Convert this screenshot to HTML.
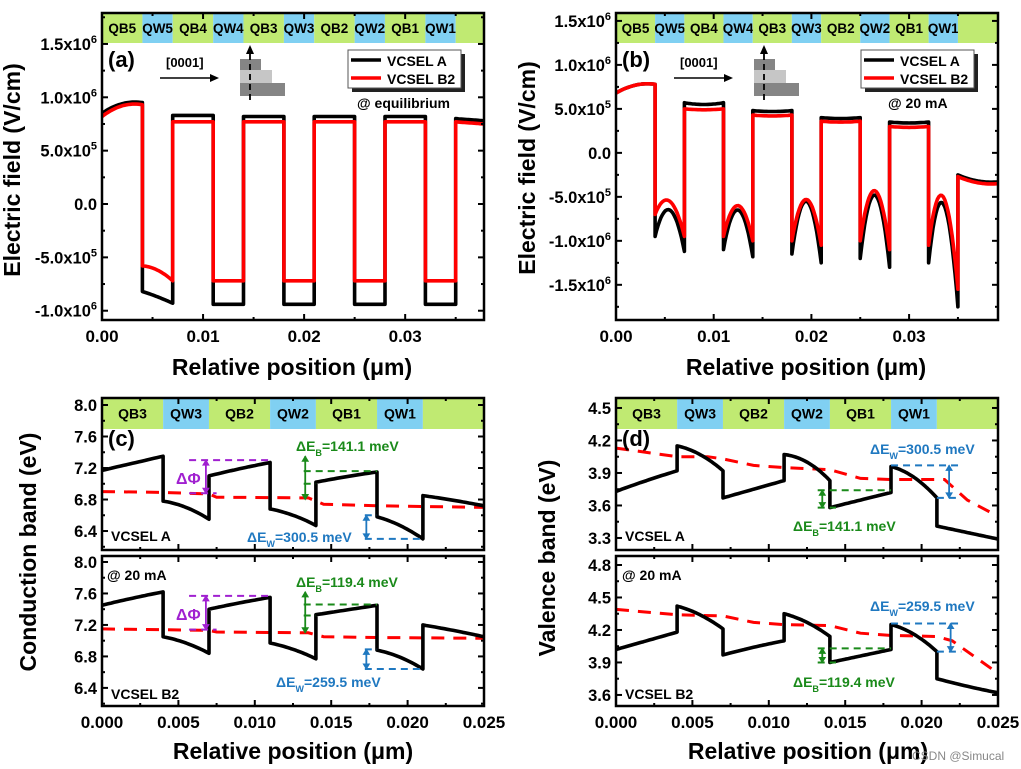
<!DOCTYPE html>
<html><head><meta charset="utf-8"><style>
html,body{margin:0;padding:0;background:#fff;}
svg{display:block;font-family:"Liberation Sans",Arial,sans-serif;font-weight:bold;}
</style></head><body>
<svg id="fig" width="1021" height="769" viewBox="0 0 1021 769" xmlns="http://www.w3.org/2000/svg">
<text transform="translate(20,170) rotate(-90)" text-anchor="middle" font-size="23">Electric field (V/cm)</text>
<text x="292" y="375" text-anchor="middle" font-size="23">Relative position (μm)</text>
<text transform="translate(535,168) rotate(-90)" text-anchor="middle" font-size="23">Electric field (V/cm)</text>
<text x="806" y="375" text-anchor="middle" font-size="23">Relative position (μm)</text>
<text transform="translate(36,552) rotate(-90)" text-anchor="middle" font-size="23">Conduction band (eV)</text>
<text x="293" y="759" text-anchor="middle" font-size="23">Relative position (μm)</text>
<text transform="translate(555,558) rotate(-90)" text-anchor="middle" font-size="23">Valence band (eV)</text>
<text x="808" y="759" text-anchor="middle" font-size="23">Relative position (μm)</text>
<text x="912" y="760" font-size="12" font-weight="normal" fill="#888">CSDN @Simucal</text>
</svg>
<script>
// ---- data ----
const layerNames10=['QB5','QW5','QB4','QW4','QB3','QW3','QB2','QW2','QB1','QW1',''];
const layerNames6=['QB3','QW3','QB2','QW2','QB1','QW1',''];
const aBounds=[0,0.004,0.007,0.011,0.014,0.018,0.021,0.025,0.028,0.032,0.035,0.0378];
const aBlack0=[0.85,-0.82,0.83,-0.94,0.82,-0.94,0.82,-0.94,0.82,-0.94,0.80];
const aBlackM=[0.94,-0.87,0.83,-0.94,0.82,-0.94,0.82,-0.94,0.82,-0.94,0.79];
const aBlack1=[0.95,-0.93,0.83,-0.94,0.82,-0.94,0.82,-0.94,0.82,-0.94,0.78];
const aRed0=[0.82,-0.58,0.77,-0.72,0.77,-0.72,0.77,-0.72,0.77,-0.72,0.77];
const aRedM=[0.92,-0.62,0.77,-0.72,0.77,-0.72,0.77,-0.72,0.77,-0.72,0.76];
const aRed1=[0.93,-0.72,0.77,-0.72,0.77,-0.72,0.77,-0.72,0.77,-0.72,0.75];
const bBounds=[0,0.004,0.007,0.011,0.014,0.018,0.021,0.025,0.028,0.032,0.035,0.0391];
const bBlack0=[0.68,-0.95,0.57,-1.10,0.48,-1.15,0.40,-1.20,0.35,-1.25,-0.25];
const bBlackM=[0.77,-0.65,0.55,-0.65,0.47,-0.55,0.39,-0.48,0.34,-0.58,-0.32];
const bBlack1=[0.78,-1.12,0.57,-1.18,0.48,-1.25,0.40,-1.30,0.35,-1.75,-0.33];
const bRed0=[0.68,-0.70,0.50,-0.95,0.43,-1.00,0.36,-1.00,0.30,-1.05,-0.27];
const bRedM=[0.77,-0.55,0.49,-0.60,0.42,-0.53,0.35,-0.43,0.29,-0.50,-0.34];
const bRed1=[0.78,-0.95,0.50,-1.00,0.43,-1.05,0.36,-1.10,0.30,-1.55,-0.35];
const cBounds=[0,0.004,0.007,0.011,0.014,0.018,0.021,0.025];
const cA0=[7.17,6.78,7.10,6.68,7.02,6.58,6.85];
const cAM=[7.26,6.70,7.19,6.60,7.09,6.47,6.79];
const cA1=[7.35,6.55,7.27,6.47,7.15,6.30,6.72];
const cB0=[7.45,7.05,7.40,6.97,7.33,6.88,7.20];
const cBM=[7.54,6.97,7.48,6.89,7.39,6.79,7.13];
const cB1=[7.62,6.84,7.55,6.77,7.45,6.64,7.05];
const cFermiX=[0,0.004,0.007,0.0075,0.0135,0.0145,0.018,0.025];
const cFermiA=[6.90,6.89,6.87,6.83,6.82,6.74,6.72,6.70];
const cFermiB=[7.15,7.14,7.13,7.11,7.10,7.05,7.04,7.03];
const dA0=[3.73,4.15,3.67,4.07,3.58,3.96,3.41];
const dAM=[3.83,4.07,3.75,4.00,3.65,3.86,3.35];
const dA1=[3.92,3.92,3.83,3.83,3.72,3.67,3.29];
const dB0=[4.02,4.42,3.97,4.35,3.90,4.25,3.75];
const dBM=[4.10,4.34,4.04,4.27,3.96,4.16,3.68];
const dB1=[4.18,4.21,4.10,4.14,4.02,4.00,3.62];
const dFermiXA=[0,0.004,0.006,0.007,0.009,0.011,0.014,0.016,0.018,0.0215,0.023,0.025];
const dFermiA=[4.13,4.05,4.05,4.03,3.97,3.95,3.93,3.85,3.84,3.84,3.65,3.50];
const dFermiXB=[0,0.004,0.007,0.009,0.011,0.014,0.016,0.018,0.021,0.022,0.025];
const dFermiB=[4.39,4.34,4.33,4.27,4.25,4.24,4.17,4.15,4.14,4.10,3.80];
const abXTicks=[0,0.01,0.02,0.03];
const abXLabels=['0.00','0.01','0.02','0.03'];
const aYTicks=[-1,-0.5,0,0.5,1,1.5];
const bYTicks=[-1.5,-1,-0.5,0,0.5,1,1.5];
const cdXTicks=[0,0.005,0.01,0.015,0.02,0.025];
const cdXLabels=['0.000','0.005','0.010','0.015','0.020','0.025'];
const cYTicks=[6.4,6.8,7.2,7.6,8.0];
const dUYTicks=[3.3,3.6,3.9,4.2,4.5];
const dLYTicks=[3.6,3.9,4.2,4.5,4.8];

const NS='http://www.w3.org/2000/svg';
const svg=document.getElementById('fig');
function el(tag,attrs,parent){const e=document.createElementNS(NS,tag);for(const k in attrs)e.setAttribute(k,attrs[k]);(parent||svg).appendChild(e);return e;}
function mkPanel(x0,x1,y0,y1,d0,d1,v0,v1){return {x0,x1,y0,y1,sx:v=>x0+(v-d0)/(d1-d0)*(x1-x0),sy:v=>y1-(v-v0)/(v1-v0)*(y1-y0),d0,d1,v0,v1};}
const PA=mkPanel(102,484,13,320,0,0.0378,-1.087,1.79);
const PB=mkPanel(616,998,13,320,0,0.0391,-1.90,1.59);
const PCU=mkPanel(102,484,398,550,0,0.025,6.159,8.089);
const PCL=mkPanel(102,484,556,706,0,0.025,6.17,8.076);
const PDU=mkPanel(616,998,398,550,0,0.025,3.189,4.592);
const PDL=mkPanel(616,998,556,706,0,0.025,3.498,4.883);

function strip(P,bounds,names,h,fs,name){
  for(let i=0;i<names.length;i++){
    const xa=P.sx(bounds[i]),xb=(i==names.length-1)?P.x1:P.sx(bounds[i+1]);
    const r=el('rect',{x:xa,y:P.y0,width:xb-xa,height:h,fill:names[i].startsWith('QW')?'#80d0f2':'#c0ea72'});
    
    
    if(names[i]){const t=el('text',{x:(xa+xb)/2,y:P.y0+h/2+5,'text-anchor':'middle','font-size':fs});t.textContent=names[i];
    
    }
  }
}
function layerCurve(P,bounds,v0,vm,v1,color,name){
  let pts=[];
  for(let i=0;i<v0.length;i++){
    for(let k=0;k<=20;k++){const t=k/20;
      const v=v0[i]*2*(t-0.5)*(t-1)+vm[i]*(-4)*t*(t-1)+v1[i]*2*t*(t-0.5);
      pts.push(P.sx(bounds[i]+(bounds[i+1]-bounds[i])*t).toFixed(1)+','+P.sy(v).toFixed(1));}
  }
  const p=el('polyline',{points:pts.join(' '),fill:'none',stroke:color,'stroke-width':3.6,'stroke-linejoin':'round'});
  
  
}
function dashed(P,xs,vs,name){
  const pts=xs.map((x,i)=>P.sx(x).toFixed(1)+','+P.sy(vs[i]).toFixed(1));
  const p=el('polyline',{points:pts.join(' '),fill:'none',stroke:'#ff0000','stroke-width':3,'stroke-dasharray':'13,9'});
  
  
}
function frame(P,xt,xl,xmin,yt,yl,ymin,showX,name){
  const g=el('g',{});
  
  
  el('rect',{x:P.x0,y:P.y0,width:P.x1-P.x0,height:P.y1-P.y0,fill:'none',stroke:'#000','stroke-width':2.5},g);
  const xs=[];for(let v=P.d0;v<=P.d1+1e-9;v+=xmin)xs.push(v);
  xs.forEach(v=>{const x=P.sx(v),maj=Math.abs(v/(xmin*2)-Math.round(v/(xmin*2)))<1e-6,L=maj?6:3;
    el('line',{x1:x,x2:x,y1:P.y1,y2:P.y1-L,stroke:'#000','stroke-width':2},g);
    el('line',{x1:x,x2:x,y1:P.y0,y2:P.y0+L,stroke:'#000','stroke-width':2},g);});
  for(let v=Math.ceil(P.v0/ymin)*ymin;v<=P.v1+1e-9;v+=ymin){const y=P.sy(v),maj=Math.abs(v/(ymin*2)-Math.round(v/(ymin*2)))<1e-6,L=maj?6:3;
    el('line',{x1:P.x0,x2:P.x0+L,y1:y,y2:y,stroke:'#000','stroke-width':2},g);
    el('line',{x1:P.x1,x2:P.x1-L,y1:y,y2:y,stroke:'#000','stroke-width':2},g);}
  if(showX)xt.forEach((v,i)=>{const t=el('text',{x:P.sx(v),y:P.y1+22,'text-anchor':'middle','font-size':17},g);t.textContent=xl[i];
    
    });
  yt.forEach((v,i)=>{const t=el('text',{x:P.x0-5,y:P.sy(v)+6,'text-anchor':'end','font-size':16.5},g);
    
    
    if(yl){const s=yl(v);t.textContent=s[0];if(s[1]){const ts=el('tspan',{dy:-7,'font-size':11},t);ts.textContent=s[1];}}else t.textContent=v.toFixed(1);});
}
function sciLabel(v){if(v===0)return['0.0',''];const a=Math.abs(v);let m,e;if(a>=1){m=v;e='6';}else{m=v*10;e='5';}return[m.toFixed(1)+'x10',e];}
function txt(x,y,s,fs,fill,name,sub,rest){
  const t=el('text',{x,y,'font-size':fs,fill:fill||'#000'});
  
  
  if(sub){t.textContent=s;const a=el('tspan',{dy:5,'font-size':fs*0.65},t);a.textContent=sub;const b=el('tspan',{dy:-5},t);b.textContent=rest;}else t.textContent=s;
}
function hl(P,xa,xb,v,c,name){const l=el('line',{x1:P.sx(xa),x2:P.sx(xb),y1:P.sy(v),y2:P.sy(v),stroke:c,'stroke-width':2,'stroke-dasharray':'7,5'});
  
  }
function varrow(P,x,va,vb,c,name){const X=P.sx(x),ya=P.sy(va),yb=P.sy(vb);
  const g=el('g',{});
  
  
  el('line',{x1:X,x2:X,y1:ya,y2:yb,stroke:c,'stroke-width':1.8},g);
  el('path',{d:`M${X-3},${ya+5}L${X},${ya}L${X+3},${ya+5}Z M${X-3},${yb-5}L${X},${yb}L${X+3},${yb-5}Z`,fill:c,stroke:c},g);}
function legend(x,y,name){
  const g=el('g',{});
  
  
  el('rect',{x:x+4,y:y+4,width:113,height:38,fill:'#222'},g);
  el('rect',{x:x,y:y,width:113,height:38,fill:'#fff',stroke:'#555','stroke-width':1},g);
  el('line',{x1:x+3,x2:x+33,y1:y+10,y2:y+10,stroke:'#000','stroke-width':3.5},g);
  el('line',{x1:x+3,x2:x+33,y1:y+28,y2:y+28,stroke:'#f00','stroke-width':3.5},g);
  const t1=el('text',{x:x+39,y:y+16,'font-size':14},g);t1.textContent='VCSEL A';
  const t2=el('text',{x:x+39,y:y+34,'font-size':14},g);t2.textContent='VCSEL B2';
}
function inset(dx,name){
  const g=el('g',{});
  
  
  const t=el('text',{x:166+dx,y:67,'font-size':13},g);t.textContent='[0001]';
  el('line',{x1:160+dx,x2:212+dx,y1:78,y2:78,stroke:'#000','stroke-width':1.5},g);
  el('path',{d:`M${210+dx},74L${219+dx},78L${210+dx},82Z`,fill:'#000'},g);
  el('rect',{x:240+dx,y:59,width:21,height:11,fill:'#858585'},g);
  el('rect',{x:240+dx,y:70,width:32,height:13,fill:'#c6c6c6'},g);
  el('rect',{x:240+dx,y:83,width:45,height:13,fill:'#858585'},g);
  el('line',{x1:250+dx,x2:250+dx,y1:100,y2:52,stroke:'#000','stroke-width':1.8,'stroke-dasharray':'6,4'},g);
  el('path',{d:`M${246+dx},54L${250+dx},45L${254+dx},54Z`,fill:'#000'},g);
}

// (a)
strip(PA,aBounds,layerNames10,30,13.5,'panel-a');
layerCurve(PA,aBounds,aBlack0,aBlackM,aBlack1,'#000','series-vcsel-a-a');
layerCurve(PA,aBounds,aRed0,aRedM,aRed1,'#f00','series-vcsel-b2-a');
frame(PA,abXTicks,abXLabels,0.005,aYTicks,sciLabel,0.25,true,'panel-a');
txt(108,67,'(a)',22,'#000','panel-label-a');
legend(348,50,'legend-a');
txt(357,108,'@ equilibrium',14,'#000','condition-label-a');
inset(0,'direction-inset-a');
// (b)
strip(PB,bBounds,layerNames10,30,13.5,'panel-b');
layerCurve(PB,bBounds,bBlack0,bBlackM,bBlack1,'#000','series-vcsel-a-b');
layerCurve(PB,bBounds,bRed0,bRedM,bRed1,'#f00','series-vcsel-b2-b');
frame(PB,abXTicks,abXLabels,0.005,bYTicks,sciLabel,0.25,true,'panel-b');
txt(622,67,'(b)',22,'#000','panel-label-b');
legend(861,50,'legend-b');
txt(888,108,'@ 20 mA',14,'#000','condition-label-b');
inset(514,'direction-inset-b');
// (c)
strip(PCU,cBounds,layerNames6,31,14,'panel-c');
dashed(PCU,cFermiX,cFermiA,'fermi-level-c-a');
layerCurve(PCU,cBounds,cA0,cAM,cA1,'#000','conduction-band-vcsel-a');
dashed(PCL,cFermiX,cFermiB,'fermi-level-c-b2');
layerCurve(PCL,cBounds,cB0,cBM,cB1,'#000','conduction-band-vcsel-b2');
frame(PCU,[],[],0.0025,cYTicks,null,0.2,false,'panel-c-upper');
frame(PCL,cdXTicks,cdXLabels,0.0025,cYTicks,null,0.2,true,'panel-c-lower');
txt(108,446,'(c)',22,'#000','panel-label-c');
txt(111,541,'VCSEL A',14,'#000','sample-label-c-a');
txt(111,699,'VCSEL B2',14,'#000','sample-label-c-b2');
txt(107,580,'@ 20 mA',14,'#000','condition-label-c');
const purple='#a020d0',green='#1a8a1a',blue='#1f78c0';
hl(PCU,0.0057,0.011,7.30,purple,'delta-phi-top-a');hl(PCU,0.0057,0.0075,6.88,purple,'delta-phi-bottom-a');
varrow(PCU,0.0068,7.30,6.88,purple,'delta-phi-arrow-a');txt(176,484,'ΔΦ',16,purple,'delta-phi-label-a');
hl(PCU,0.0132,0.018,7.16,green,'delta-eb-top-c-a');hl(PCU,0.0132,0.014,7.00,green,'delta-eb-bottom-c-a');
varrow(PCU,0.0133,7.35,6.80,green,'delta-eb-arrow-c-a');txt(296,451,'ΔE',14,green,'delta-eb-label-c-a','B','=141.1 meV');
hl(PCU,0.0172,0.021,6.30,blue,'delta-ew-bottom-c-a');hl(PCU,0.0172,0.018,6.60,blue,'delta-ew-top-c-a');
varrow(PCU,0.0173,6.60,6.30,blue,'delta-ew-arrow-c-a');txt(247,542,'ΔE',14,blue,'delta-ew-label-c-a','W','=300.5 meV');
hl(PCL,0.0057,0.011,7.57,purple,'delta-phi-top-b2');hl(PCL,0.0057,0.0075,7.14,purple,'delta-phi-bottom-b2');
varrow(PCL,0.0068,7.57,7.14,purple,'delta-phi-arrow-b2');txt(176,620,'ΔΦ',16,purple,'delta-phi-label-b2');
hl(PCL,0.0132,0.018,7.46,green,'delta-eb-top-c-b2');hl(PCL,0.0132,0.014,7.32,green,'delta-eb-bottom-c-b2');
varrow(PCL,0.0133,7.62,7.10,green,'delta-eb-arrow-c-b2');txt(296,587,'ΔE',14,green,'delta-eb-label-c-b2','B','=119.4 meV');
hl(PCL,0.0172,0.021,6.64,blue,'delta-ew-bottom-c-b2');hl(PCL,0.0172,0.018,6.89,blue,'delta-ew-top-c-b2');
varrow(PCL,0.0173,6.89,6.64,blue,'delta-ew-arrow-c-b2');txt(276,687,'ΔE',14,blue,'delta-ew-label-c-b2','W','=259.5 meV');
// (d)
strip(PDU,cBounds,layerNames6,31,14,'panel-d');
dashed(PDU,dFermiXA,dFermiA,'fermi-level-d-a');
layerCurve(PDU,cBounds,dA0,dAM,dA1,'#000','valence-band-vcsel-a');
dashed(PDL,dFermiXB,dFermiB,'fermi-level-d-b2');
layerCurve(PDL,cBounds,dB0,dBM,dB1,'#000','valence-band-vcsel-b2');
frame(PDU,[],[],0.0025,dUYTicks,null,0.15,false,'panel-d-upper');
frame(PDL,cdXTicks,cdXLabels,0.0025,dLYTicks,null,0.15,true,'panel-d-lower');
txt(622,446,'(d)',22,'#000','panel-label-d');
txt(625,541,'VCSEL A',14,'#000','sample-label-d-a');
txt(625,699,'VCSEL B2',14,'#000','sample-label-d-b2');
txt(622,580,'@ 20 mA',14,'#000','condition-label-d');
hl(PDU,0.018,0.0225,3.97,blue,'delta-ew-top-d-a');hl(PDU,0.021,0.0225,3.67,blue,'delta-ew-bottom-d-a');
varrow(PDU,0.0218,3.97,3.67,blue,'delta-ew-arrow-d-a');txt(870,454,'ΔE',14,blue,'delta-ew-label-d-a','W','=300.5 meV');
hl(PDU,0.0132,0.018,3.74,green,'delta-eb-top-d-a');hl(PDU,0.0132,0.0144,3.58,green,'delta-eb-bottom-d-a');
varrow(PDU,0.0135,3.74,3.58,green,'delta-eb-arrow-d-a');txt(793,531,'ΔE',14,green,'delta-eb-label-d-a','B','=141.1 meV');
hl(PDL,0.018,0.0226,4.26,blue,'delta-ew-top-d-b2');hl(PDL,0.021,0.0226,4.00,blue,'delta-ew-bottom-d-b2');
varrow(PDL,0.0219,4.26,4.00,blue,'delta-ew-arrow-d-b2');txt(870,611,'ΔE',14,blue,'delta-ew-label-d-b2','W','=259.5 meV');
hl(PDL,0.0132,0.018,4.03,green,'delta-eb-top-d-b2');hl(PDL,0.0132,0.0144,3.90,green,'delta-eb-bottom-d-b2');
varrow(PDL,0.0135,4.03,3.90,green,'delta-eb-arrow-d-b2');txt(793,687,'ΔE',14,green,'delta-eb-label-d-b2','B','=119.4 meV');
</script>
</body></html>
